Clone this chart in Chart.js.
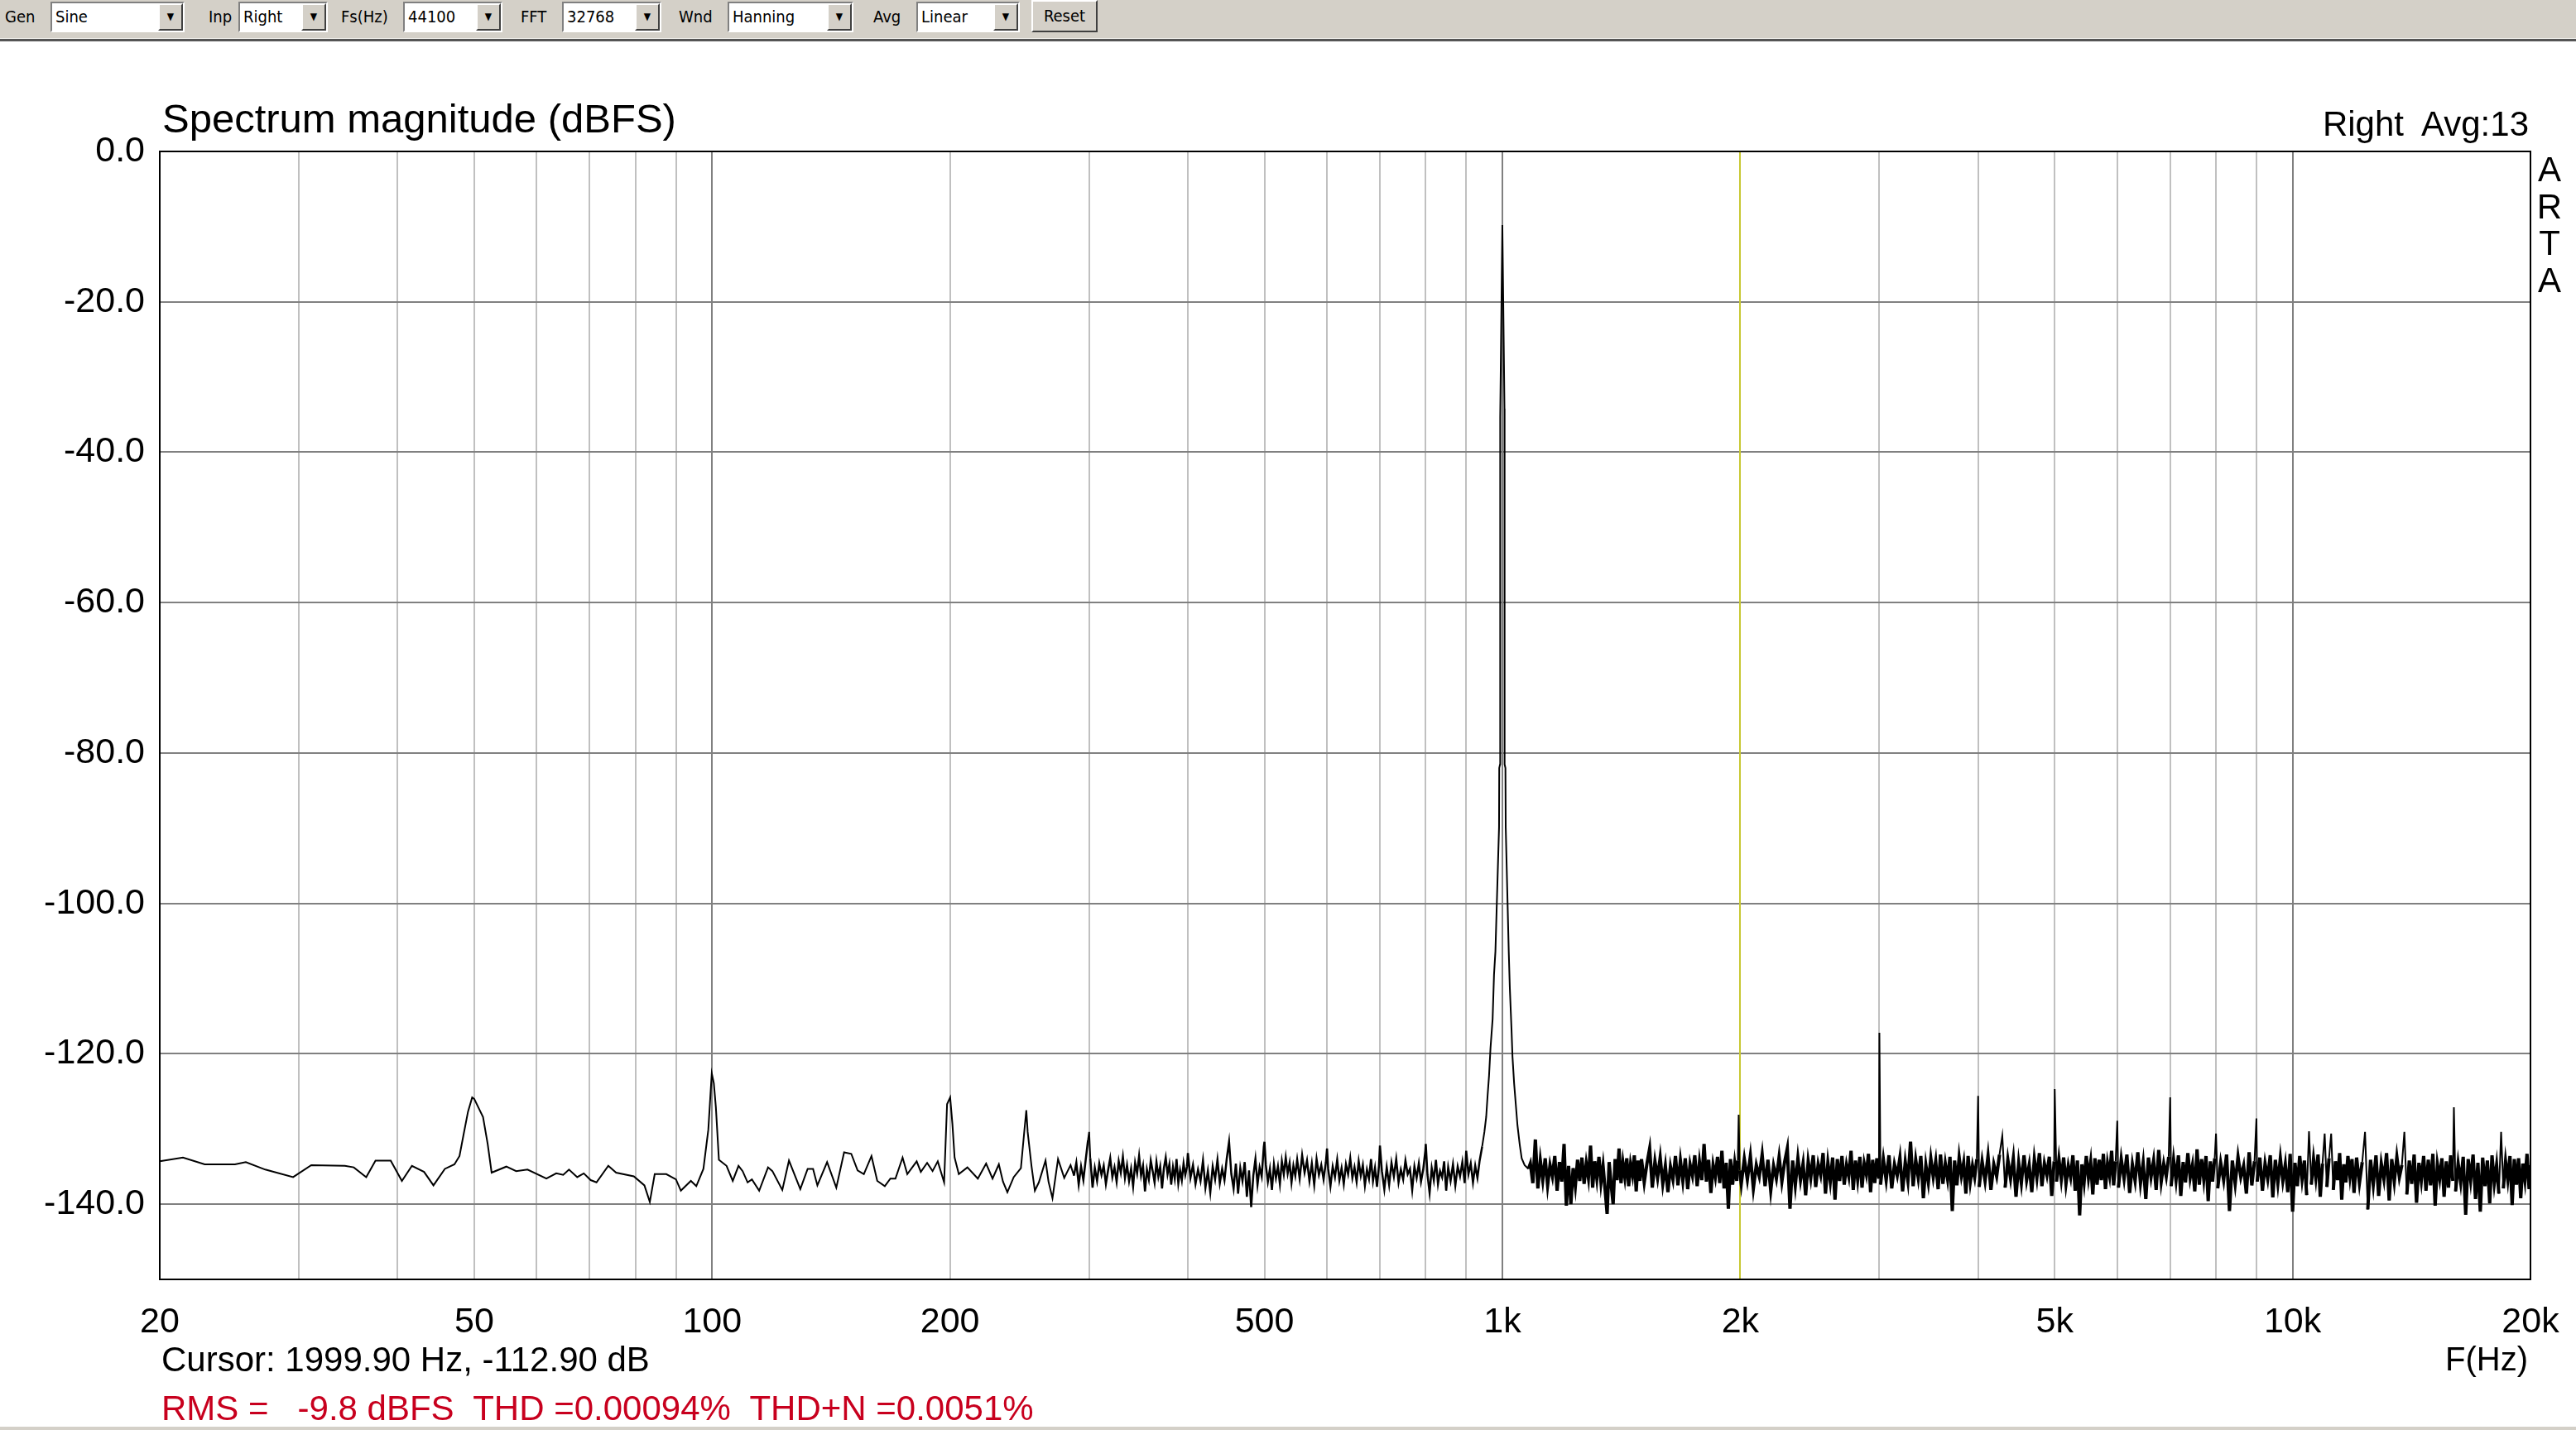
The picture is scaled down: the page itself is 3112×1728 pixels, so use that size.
<!DOCTYPE html>
<html>
<head>
<meta charset="utf-8">
<title>Spectrum magnitude (dBFS)</title>
<script src="https://cdn.jsdelivr.net/npm/chart.js@4.4.1/dist/chart.umd.min.js"></script>
<style>
body{margin:0;background:#fff;overflow:hidden}
#page{position:relative;width:3112px;height:1728px;font-family:"Liberation Sans",Arial,sans-serif;background:#fff}
#chart{position:absolute;left:0;top:0}
.txt{position:absolute;white-space:pre;line-height:1;color:#000}
#toolbar{position:absolute;left:0;top:0;width:3112px;height:46px;background:#d4d0c8;font-family:"Liberation Sans Narrow","DejaVu Sans Condensed","Liberation Sans",sans-serif;font-size:20px}
#tbline{position:absolute;left:0;top:46px;width:3112px;height:1px;background:#f0efea}
#tbdark{position:absolute;left:0;top:47px;width:3112px;height:3px;background:#555}
.lbl{position:absolute;top:8px}
.combo{position:absolute;top:2px;height:37px;box-sizing:border-box;background:#fff;border:2px solid;border-color:#808080 #fff #fff #808080;line-height:33px;padding-left:4px}
.combo i{position:absolute;right:0;top:0;width:30px;height:33px;box-sizing:border-box;background:#d4d0c8;border:2px solid;border-color:#fff #404040 #404040 #fff;font-style:normal;font-size:12px;line-height:29px;text-align:center}
.btn{position:absolute;top:0;height:39px;box-sizing:border-box;background:#d4d0c8;border:2px solid;border-color:#fff #404040 #404040 #fff;line-height:35px;text-align:center}
#bottom{position:absolute;left:0;top:1724px;width:3112px;height:4px;background:#d4d0c8}
</style>
</head>
<body>
<div id="page">
  <canvas id="chart" width="3112" height="1728"></canvas>

  <div id="toolbar">
    <span class="lbl" style="left:6px">Gen</span>
    <div class="combo" style="left:61px;width:162px">Sine<i>▼</i></div>
    <span class="lbl" style="left:252px">Inp</span>
    <div class="combo" style="left:288px;width:108px">Right<i>▼</i></div>
    <span class="lbl" style="left:412px">Fs(Hz)</span>
    <div class="combo" style="left:487px;width:120px">44100<i>▼</i></div>
    <span class="lbl" style="left:629px">FFT</span>
    <div class="combo" style="left:679px;width:120px">32768<i>▼</i></div>
    <span class="lbl" style="left:820px">Wnd</span>
    <div class="combo" style="left:879px;width:152px">Hanning<i>▼</i></div>
    <span class="lbl" style="left:1055px">Avg</span>
    <div class="combo" style="left:1107px;width:125px">Linear<i>▼</i></div>
    <div class="btn" style="left:1246px;width:80px">Reset</div>
  </div>
  <div id="tbline"></div>
  <div id="tbdark"></div>

  <div class="txt" style="left:196px;top:119px;font-size:49px">Spectrum magnitude (dBFS)</div>
  <div class="txt" style="right:57px;top:129px;font-size:42px">Right  Avg:13</div>
  <div class="txt" style="left:3060px;top:183px;width:40px;text-align:center;font-size:42px;line-height:44.5px">A<br>R<br>T<br>A</div>
  <div class="txt" style="left:195px;top:1622px;font-size:42px">Cursor: 1999.90 Hz, -112.90 dB</div>
  <div class="txt" style="right:58px;top:1622px;font-size:40px">F(Hz)</div>
  <div class="txt" style="left:195px;top:1681px;font-size:42px;color:#c8001e">RMS =   -9.8 dBFS  THD =0.00094%  THD+N =0.0051%</div>
  <div id="bottom"></div>
</div>

<script>
// axis setup
const xGridHz = [20,30,40,50,60,70,80,90,100,200,300,400,500,600,700,800,900,1000,
  2000,3000,4000,5000,6000,7000,8000,9000,10000,20000];
const xMajorHz = [100,1000,10000];
const xLabelHz = [20,50,100,200,500,1000,2000,5000,10000,20000];
const xLabels = ['20','50','100','200','500','1k','2k','5k','10k','20k'];
const yTicks = [0,-20,-40,-60,-80,-100,-120,-140];
const cursorHz = 1999.9;

// spectrum, [Hz, dBFS]
const lowBand = [[20,-134.3],[21.4,-133.8],[22.8,-134.7],[24.9,-134.7],[25.7,-134.4],[27.2,-135.4],[29.5,-136.4],[31.1,-134.8],
  [34.3,-134.9],[35.2,-135.1],[36.5,-136.4],[37.5,-134.2],[39.2,-134.2],[40.5,-136.9],[41.7,-134.9],[43.2,-135.7],[44.4,-137.5],
  [45.9,-135.3],[47.2,-134.7],[47.9,-133.6],[48.5,-130.6],[49.1,-127.7],[49.7,-125.8],[50.0,-126.0],[51.3,-128.4],[52.0,-132.0],
  [52.6,-135.8],[54.9,-135.0],[56.5,-135.6],[58.4,-135.4],[61.7,-136.6],[63.5,-135.9],[64.8,-136.1],[65.9,-135.4],[67.5,-136.4],
  [68.8,-135.9],[70.2,-136.8],[71.4,-137.1],[73.9,-134.9],[75.6,-135.8],[79.6,-136.3],[82.1,-137.5],[83.4,-139.7],[84.6,-136.0],
  [87.5,-136.0],[90.0,-136.7],[91.3,-138.2],[94.0,-136.9],[95.5,-137.6],[97.5,-135.3],[98.9,-130.1],[99.9,-122.6],[100.5,-123.9],
  [101.1,-127.1],[102.0,-134.1],[104.3,-134.9],[106.2,-136.9],[108.0,-134.9],[109.3,-135.6],[110.9,-137.1],[112.3,-136.7],
  [114.7,-138.2],[117.7,-135.1],[119.2,-135.6],[122.7,-138.1],[125.1,-134.2],[129.3,-138.0],[132.1,-135.3],[134.2,-135.3],
  [135.9,-137.5],[139.8,-134.4],[143.6,-137.8],[146.9,-133.1],[150.0,-133.3],[152.8,-135.5],[155.6,-136.0],[159.1,-133.6],
  [161.8,-136.9],[165.4,-137.6],[168.1,-136.6],[170.6,-136.6],[174.2,-133.8],[176.6,-136.0],[181.5,-134.3],[183.7,-135.7],
  [187.1,-134.5],[190.1,-135.6],[193.0,-134.3],[196.6,-137.1],[198.3,-126.7],[200.1,-125.8],[201.4,-129.3],[202.7,-133.8],
  [205.2,-136.0],[210.4,-135.1],[216.9,-136.6],[222.2,-134.6],[226.4,-136.6],[230.6,-134.7],[233.4,-137.0],[236.4,-138.4],
  [240.8,-136.4],[245.9,-135.2],[248.2,-130.6],[249.8,-127.5],[250.8,-130.4],[253.6,-134.9],[256.1,-138.2],[259.1,-137.1],
  [264.2,-134.2],[266.5,-137.0],[269.6,-139.2],[274.0,-134.0],[279.0,-136.5],[284.2,-134.8]];

const midBand = [[287,-136.2],[289,-134.5],[291,-137.4],[293,-135.0],[295,-136.8],[297,-134.1],[299,-131.5],[300,-130.4],
  [301,-133.9],[303,-137.8],[305,-135.2],[307,-136.9],[309,-134.6],[311,-136.1],[313,-134.9],[315,-137.3],[317,-135.5],
  [319,-133.9],[321,-136.4],[323,-135.1],[325,-137.0],[327,-134.3],[329,-135.8],[331,-133.7],[333,-136.5],[335,-134.8],
  [337,-136.9],[339,-135.3],[341,-137.6],[343,-134.5],[345,-135.9],[347,-133.6],[349,-136.2],[351,-134.9],[353,-138.3],
  [355,-135.4],[357,-136.7],[359,-134.2],[361,-135.6],[363,-137.1],[365,-134.4],[367,-136.3],[369,-135.0],[371,-137.9],
  [373,-135.2],[375,-133.8],[377,-136.0],[379,-134.7],[381,-137.4],[383,-135.1],[385,-136.6],[387,-134.0],[389,-137.2],
  [391,-135.5],[393,-136.8],[395,-134.6],[397,-136.1],[399,-135.0],[400,-133.2],[403,-136.5],[406,-134.8],[409,-137.3],
  [412,-135.4],[415,-136.9],[418,-134.2],[421,-137.8],[424,-135.6],[427,-138.4],[430,-135.0],[433,-136.7],[436,-134.1],
  [439,-137.2],[442,-135.3],[445,-136.8],[448,-133.9],[451,-131.7],[454,-136.0],[457,-137.9],[460,-134.6],[463,-138.6],
  [466,-135.2],[469,-136.9],[472,-134.4],[475,-139.0],[478,-135.5],[481,-140.4],[484,-136.2],[487,-134.0],[490,-137.4],
  [493,-135.1],[496,-136.3],[499,-132.4],[500,-131.7],[502,-134.8],[505,-137.0],[508,-135.3],[511,-138.1],[514,-134.7],
  [517,-136.5],[520,-135.0],[523,-137.3],[526,-134.3],[529,-136.0],[532,-133.8],[535,-135.9],[538,-134.5],[541,-137.1],
  [544,-134.9],[547,-136.2],[550,-134.1],[554,-136.6],[558,-133.5],[562,-135.8],[566,-134.2],[570,-136.9],[574,-134.6],
  [578,-137.4],[582,-134.0],[586,-136.1],[590,-134.8],[594,-136.7],[598,-134.4],[600,-132.6],[602,-135.3],[606,-137.6],
  [610,-135.0],[614,-136.4],[618,-134.1],[622,-136.8],[626,-135.2],[630,-137.3],[634,-134.7],[638,-136.0],[642,-133.9],
  [646,-136.5],[650,-135.1],[654,-137.0],[658,-134.3],[662,-136.2],[666,-134.8],[670,-137.5],[674,-135.4],[678,-136.6],
  [682,-134.0],[686,-136.9],[690,-135.2],[694,-137.7],[698,-134.9],[700,-132.2],[704,-135.6],[709,-138.0],[714,-135.1],
  [719,-137.4],[724,-134.5],[729,-136.3],[734,-134.0],[739,-137.1],[744,-135.4],[749,-136.7],[754,-134.2],[759,-136.0],
  [764,-135.3],[769,-138.1],[774,-135.0],[779,-136.5],[784,-134.6],[789,-137.0],[794,-135.4],[799,-132.9],[800,-132.0],
  [804,-136.1],[809,-138.5],[814,-135.2],[819,-136.8],[824,-134.1],[829,-137.3],[834,-135.6],[839,-136.4],[844,-134.3],
  [849,-138.2],[854,-135.1],[860,-136.9],[866,-134.7],[872,-137.5],[878,-135.0],[884,-136.3],[890,-134.4],[896,-137.2],
  [900,-132.9],[906,-136.0],[912,-134.6],[918,-137.1],[924,-134.9],[930,-136.5],[936,-134.2]];

// skirt and the 1 kHz tone
const toneBand = [[943,-132.3],[949,-130.4],[954,-128.4],[958,-125.5],[962,-122.9],[966,-119.3],[972,-115.4],[976,-109.5],
  [980,-106.4],[990.4,-89.9],[991,-82],[993.4,-81.5],[993.8,-35.3],[1000,-9.8],[1006.2,-34.2],[1006.6,-81.5],[1009,-82],
  [1009.9,-89.9],[1018.8,-106.4],[1022,-111.2],[1027,-116.7],[1030,-120.4],[1035,-124.0],[1041,-127.3],[1045,-129.5],
  [1052,-132.1],[1058,-133.9],[1067,-134.8],[1079,-135.3]];

// noise floor and harmonics above the tone
const hfBand = [[1085,-134.6],[1093,-137.2],[1101,-131.4],[1109,-137.9],[1117,-134.2],[1125,-136.8],[1133,-133.9],
  [1141,-137.5],[1149,-134.8],[1157,-136.3],[1165,-133.6],[1173,-138.2],[1181,-134.4],[1189,-137.0],[1197,-132.0],
  [1205,-140.2],[1213,-134.9],[1221,-140.0],[1229,-135.2],[1237,-137.6],[1245,-134.1],[1253,-136.9],[1261,-133.8],
  [1269,-137.3],[1277,-134.6],[1285,-136.5],[1293,-132.2],[1301,-137.8],[1309,-134.3],[1317,-136.6],[1325,-133.7],
  [1333,-137.1],[1341,-134.9],[1349,-138.0],[1357,-141.3],[1365,-134.4],[1373,-137.4],[1381,-140.0],[1389,-134.0],
  [1397,-136.8],[1405,-132.6],[1413,-137.2],[1421,-134.5],[1429,-136.4],[1437,-133.9],[1445,-137.6],[1453,-134.7],
  [1461,-136.1],[1469,-133.5],[1477,-138.3],[1485,-134.2],[1493,-136.9],
  [1500,-134.0],[1512,-137.1],[1524,-134.6],[1536,-132.6],[1548,-137.8],[1560,-134.3],[1572,-136.5],[1584,-133.8],
  [1596,-137.3],[1608,-134.9],[1620,-138.4],[1632,-135.0],[1644,-136.7],[1656,-133.6],[1668,-137.5],[1680,-134.2],
  [1692,-136.9],[1704,-133.9],[1716,-138.0],[1728,-134.7],[1740,-136.2],[1752,-133.5],[1764,-137.6],[1776,-134.4],
  [1788,-136.8],[1800,-132.0],[1812,-137.0],[1824,-134.1],[1836,-138.5],[1848,-134.8],[1860,-136.4],[1872,-133.7],
  [1884,-137.2],[1896,-132.9],[1908,-137.9],[1920,-134.5],[1932,-140.6],[1944,-134.0],[1956,-137.4],[1968,-134.6],
  [1980,-136.9],[1986,-134.2],[1991,-128.1],[1997,-135.5],
  [2006,-137.3],[2024,-134.0],[2042,-136.7],[2060,-133.6],[2078,-137.9],[2096,-134.8],[2114,-136.3],[2132,-133.4],
  [2150,-137.6],[2168,-134.1],[2186,-138.2],[2204,-134.9],[2222,-136.6],[2240,-133.7],[2258,-137.0],[2276,-134.4],
  [2294,-132.6],[2312,-140.6],[2330,-134.2],[2348,-137.5],[2366,-133.9],[2384,-136.8],[2402,-134.6],[2420,-138.8],
  [2438,-134.3],[2456,-136.5],[2474,-133.5],[2492,-137.7],[2510,-134.7],[2528,-136.1],[2546,-133.2],[2564,-138.6],
  [2582,-134.5],[2600,-137.0],[2618,-133.8],[2636,-139.4],[2654,-134.0],[2672,-136.9],[2690,-133.6],[2708,-137.4],
  [2726,-134.8],[2744,-136.3],[2762,-132.9],[2780,-138.1],[2798,-134.2],[2816,-136.7],[2834,-133.7],[2852,-137.8],
  [2870,-134.6],[2888,-136.0],[2906,-133.3],[2924,-138.4],[2942,-134.1],[2960,-137.2],[2978,-133.9],[2996,-136.6],
  [3000,-117.2],
  [3010,-137.4],[3035,-134.0],[3060,-136.8],[3085,-133.5],[3110,-137.9],[3135,-134.7],[3160,-136.2],[3185,-133.8],
  [3210,-138.3],[3235,-134.4],[3260,-136.9],[3285,-131.7],[3310,-137.6],[3335,-134.1],[3360,-136.5],[3385,-133.6],
  [3410,-139.2],[3435,-134.8],[3460,-137.1],[3485,-133.9],[3510,-136.4],[3535,-134.3],[3560,-138.0],[3585,-133.4],
  [3610,-137.3],[3635,-134.6],[3660,-136.7],[3685,-133.7],[3710,-140.9],[3735,-134.2],[3760,-137.5],[3785,-133.8],
  [3810,-136.2],[3835,-134.5],[3860,-138.6],[3885,-133.6],[3910,-137.0],[3935,-134.9],[3960,-136.4],[3985,-134.0],
  [4000,-125.6],
  [4012,-137.7],[4047,-134.3],[4082,-136.9],[4117,-133.6],[4152,-138.1],[4187,-134.7],[4222,-136.3],[4257,-133.4],
  [4292,-130.9],[4327,-137.8],[4362,-134.1],[4397,-136.6],[4432,-133.9],[4467,-139.0],[4502,-134.5],[4537,-137.2],
  [4572,-133.5],[4607,-136.8],[4642,-134.8],[4677,-138.4],[4712,-134.0],[4747,-136.5],[4782,-133.2],[4817,-137.6],
  [4852,-134.6],[4887,-136.1],[4922,-133.7],[4957,-138.9],[4992,-134.3],[5000,-124.7],[5027,-137.0],[5062,-134.0],
  [5097,-136.7],[5132,-133.8],[5167,-137.3],[5202,-134.9],[5237,-136.4],[5272,-133.5],[5307,-138.2],[5342,-134.2],
  [5377,-141.5],[5412,-134.7],[5447,-137.1],[5482,-133.6],[5517,-136.5],[5552,-134.4],[5587,-138.7],[5622,-133.9],
  [5657,-137.4],[5692,-134.1],[5727,-136.8],[5762,-133.3],[5797,-138.0],[5832,-134.6],[5867,-136.2],[5902,-132.9],
  [5937,-137.5],[5972,-134.3],[6000,-128.9],
  [6020,-137.8],[6070,-134.0],[6120,-136.6],[6170,-133.4],[6220,-138.5],[6270,-134.7],[6320,-136.9],[6370,-133.1],
  [6420,-137.2],[6470,-134.5],[6520,-139.3],[6570,-133.8],[6620,-136.4],[6670,-134.2],[6720,-138.1],[6770,-132.8],
  [6820,-137.0],[6870,-134.6],[6920,-136.3],[6970,-133.7],[7000,-125.8],[7020,-137.6],[7070,-134.1],[7120,-136.8],
  [7170,-133.5],[7220,-138.9],[7270,-134.4],[7320,-137.1],[7370,-133.2],[7420,-136.5],[7470,-134.8],[7520,-138.3],
  [7570,-132.7],[7620,-137.4],[7670,-134.0],[7720,-136.7],[7770,-133.6],[7820,-139.6],[7870,-134.3],[7920,-137.0],
  [7970,-133.9],[8000,-130.6],
  [8040,-137.9],[8110,-134.5],[8180,-136.8],[8250,-133.4],[8320,-140.9],[8390,-134.2],[8460,-137.3],[8530,-133.7],
  [8600,-136.4],[8670,-134.9],[8740,-138.6],[8810,-133.1],[8880,-137.5],[8950,-134.3],[9000,-128.6],[9020,-137.0],
  [9090,-133.8],[9160,-138.2],[9230,-134.6],[9300,-136.6],[9370,-133.5],[9440,-139.1],[9510,-134.1],[9580,-137.2],
  [9650,-133.9],[9720,-136.9],[9790,-134.7],[9860,-138.4],[9930,-133.3],[10000,-141.0],[10070,-134.5],[10140,-137.6],
  [10210,-133.6],[10280,-136.7],[10350,-134.2],[10420,-138.8],[10490,-130.3],[10560,-137.4],[10630,-134.0],[10700,-136.5],
  [10770,-133.4],[10840,-139.0],[10910,-134.6],[10980,-130.6],[11050,-137.7],[11120,-133.9],[11190,-130.6],[11260,-138.1],
  [11330,-134.3],[11400,-136.8],[11470,-133.2],[11540,-139.4],[11610,-134.7],[11680,-137.1],[11750,-133.6],[11820,-136.3],
  [11890,-134.0],[11960,-138.5],
  [12050,-133.8],[12150,-137.2],[12250,-134.4],[12350,-130.4],[12450,-140.7],[12550,-134.1],[12650,-137.4],[12750,-133.5],
  [12850,-138.9],[12950,-134.6],[13050,-136.7],[13150,-133.2],[13250,-139.5],[13350,-134.0],[13450,-137.0],[13550,-133.7],
  [13650,-136.4],[13750,-134.8],[13850,-130.4],[13950,-138.7],[14050,-134.2],[14150,-137.3],[14250,-133.4],[14350,-139.8],
  [14450,-134.5],[14550,-136.9],[14650,-133.6],[14750,-138.2],[14850,-134.1],[14950,-137.5],[15050,-133.3],[15150,-140.2],
  [15250,-134.7],[15350,-136.6],[15450,-133.9],[15550,-139.0],[15650,-134.3],[15750,-137.8],[15850,-133.5],[15950,-136.9],
  [16000,-127.1],
  [16080,-138.3],[16200,-134.6],[16320,-137.1],[16440,-133.7],[16560,-141.4],[16680,-134.0],[16800,-136.8],[16920,-133.4],
  [17040,-139.3],[17160,-134.5],[17280,-141.0],[17400,-133.8],[17520,-137.6],[17640,-134.2],[17760,-139.9],[17880,-133.5],
  [18000,-137.2],[18120,-134.8],[18240,-138.6],[18360,-130.4],[18480,-137.9],[18600,-134.3],[18720,-136.7],[18840,-133.6],
  [18960,-140.1],[19080,-134.0],[19200,-137.4],[19320,-133.9],[19440,-139.2],[19560,-134.6],[19680,-136.8],[19800,-133.3],
  [19920,-138.0],[20000,-134.8]];

const trace = [...lowBand, ...midBand, ...toneBand, ...hfBand].map(([x, y]) => ({ x, y }));

// cursor line under the trace, plot frame on top
const framePlugin = {
  id: 'frame',
  beforeDatasetsDraw(chart) {
    const { ctx, chartArea: a, scales } = chart;
    const cx = Math.round(scales.x.getPixelForValue(cursorHz));
    ctx.save();
    ctx.strokeStyle = '#c8c832';
    ctx.lineWidth = 2;
    ctx.beginPath();
    ctx.moveTo(cx, a.top);
    ctx.lineTo(cx, a.bottom);
    ctx.stroke();
    ctx.restore();
  },
  afterDatasetsDraw(chart) {
    const { ctx, chartArea: a } = chart;
    ctx.save();
    ctx.strokeStyle = '#000';
    ctx.lineWidth = 2;
    ctx.strokeRect(a.left, a.top, a.right - a.left, a.bottom - a.top);
    ctx.restore();
  }
};

// noise floor drawn heavier so it reads as the dense band of the original; spikes stay thin
function segWidth(c) {
  const f = c.p0.parsed.x;
  const spike = c.p0.parsed.y > -131 || c.p1.parsed.y > -131;
  if (spike) return 2;
  if (f >= 1079) return 4;
  if (f >= 287 && f < 940) return 2.5;
  return 2;
}

const tickFont = { family: 'Liberation Sans', size: 43 };

new Chart(document.getElementById('chart'), {
  type: 'line',
  data: {
    datasets: [{
      data: trace,
      borderColor: '#000',
      borderWidth: 2,
      pointRadius: 0,
      tension: 0,
      fill: false,
      segment: { borderWidth: segWidth }
    }]
  },
  options: {
    responsive: false,
    animation: false,
    devicePixelRatio: 1,
    layout: { padding: { left: 0, top: 183, right: 55, bottom: 112 } },
    plugins: { legend: { display: false }, tooltip: { enabled: false } },
    scales: {
      x: {
        type: 'logarithmic',
        min: 20,
        max: 20000,
        afterBuildTicks: s => { s.ticks = xGridHz.map(v => ({ value: v })); },
        afterFit: s => { s.height = 70; },
        border: { display: false },
        grid: {
          color: c => (c.tick && xMajorHz.includes(c.tick.value)) ? '#808080' : '#c0c0c0',
          lineWidth: 2,
          drawTicks: false
        },
        ticks: {
          autoSkip: false,
          maxRotation: 0,
          padding: 20,
          color: '#000',
          font: { family: 'Liberation Sans', size: 43, lineHeight: 1.5 },
          callback: v => { const i = xLabelHz.indexOf(v); return i < 0 ? '' : xLabels[i]; }
        }
      },
      y: {
        min: -150,
        max: 0,
        afterBuildTicks: s => { s.ticks = yTicks.map(v => ({ value: v })); },
        afterFit: s => { s.width = 193; },
        border: { display: false },
        grid: { color: '#808080', lineWidth: 2, drawTicks: false },
        ticks: {
          padding: 18,
          color: '#000',
          font: tickFont,
          callback: v => v.toFixed(1)
        }
      }
    }
  },
  plugins: [framePlugin]
});
</script>
</body>
</html>
